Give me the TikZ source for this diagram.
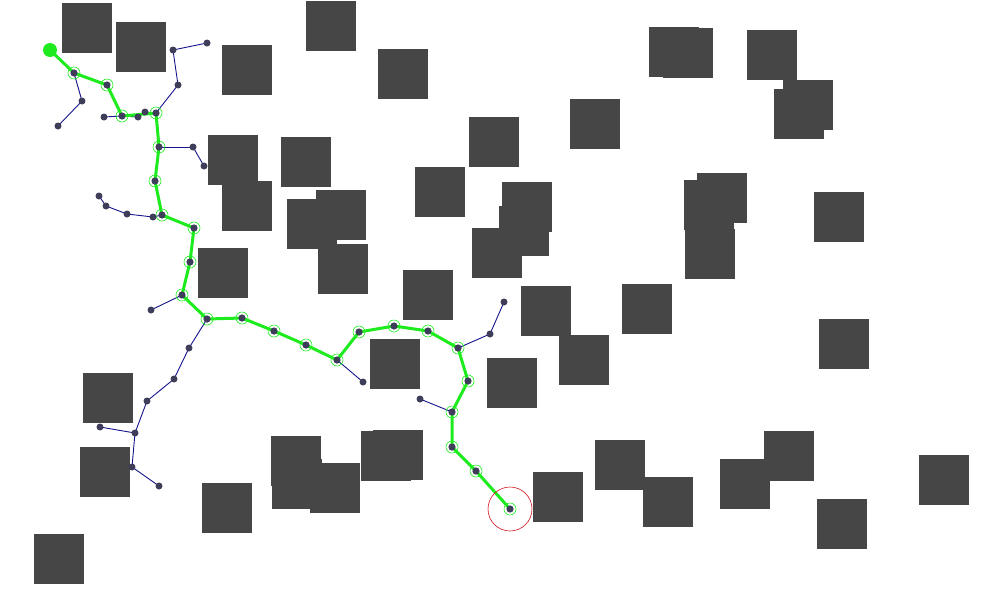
\documentclass[tikz,border=0pt]{standalone}
\usepackage{tikz}
\usetikzlibrary{arrows,positioning,backgrounds}
\definecolor{obst}{RGB}{70,70,70}
\definecolor{dotc}{RGB}{62,62,90}
\definecolor{treec}{RGB}{20,20,140}
\definecolor{pathc}{RGB}{30,235,30}
\definecolor{goalc}{RGB}{210,20,30}

\begin{document}
\begin{tikzpicture}[x=1pt,y=-1pt]
\useasboundingbox (0,0) rectangle (1000,600);
%% obstacles
\foreach \x/\y in {62/3,116/22,222/45,306/1,378/49,649/27,663/28,747/30,783/80,774/89,
  570/99,469/117,208/135,281/137,415/167,222/181,287/199,316/190,502/182,499/206,
  472/228,697/173,684/180,685/229,814/192,198/248,318/244,403/270,521/286,622/284,
  819/319,370/339,559/335,487/358,83/373,80/447,271/436,272/459,310/463,361/431,
  373/430,202/483,533/472,595/440,643/477,720/459,764/431,817/499,919/455,34/534}
  \fill[obst] (\x,\y) rectangle ++(50,50); %%
\begin{scope}
\tikzstyle{every node}=[circle,inner sep=0pt] %%
\tikzstyle{tn}=[fill=dotc,minimum size=7pt] %%
\tikzstyle{pn}=[draw=pathc,line width=.6pt,minimum size=12pt,
  path picture={\fill[dotc] (path picture bounding box.center) circle (3.6pt);}] %%
\node[fill=pathc,minimum size=14pt] (p0) at (50,50) {}; %%
\node[pn] (p1) at (74,73) {}; %%
\node[pn] (p2) at (107,85) {}; %%
\node[pn] (p3) at (122,116) {}; %%
\node[pn] (p4) at (156,113) {}; %%
\node[pn] (p5) at (159,147) {}; %%
\node[pn] (p6) at (155,181) {}; %%
\node[pn] (p7) at (162,215) {}; %%
\node[pn] (p8) at (194,228) {}; %%
\node[pn] (p9) at (190,262) {}; %%
\node[pn] (p10) at (182,295) {}; %%
\node[pn] (p11) at (207,319) {}; %%
\node[pn] (p12) at (242,318) {}; %%
\node[pn] (p13) at (274,331) {}; %%
\node[pn] (p14) at (306,345) {}; %%
\node[pn] (p15) at (337,360) {}; %%
\node[pn] (p16) at (359,332) {}; %%
\node[pn] (p17) at (394,326) {}; %%
\node[pn] (p18) at (428,331) {}; %%
\node[pn] (p19) at (458,348) {}; %%
\node[pn] (p20) at (468,381) {}; %%
\node[pn] (p21) at (452,412) {}; %%
\node[pn] (p22) at (452,447) {}; %%
\node[pn] (p23) at (476,471) {}; %%
\node[pn] (p24) at (510,509) {}; %%
\node[draw=goalc,line width=.6pt,minimum size=44pt] (goal) at (p24) {}; %%
\node[tn] (b1) at (82,101) {}; %%
\node[tn] (b2) at (58,126) {}; %%
\node[tn] (b3) at (104,117) {}; %%
\node[tn] (b4) at (138,117) {}; %%
\node[tn] (b5) at (145,112) {}; %%
\node[tn] (b6) at (178,85) {}; %%
\node[tn] (b7) at (173,50) {}; %%
\node[tn] (b8) at (207,43) {}; %%
\node[tn] (b9) at (193,147) {}; %%
\node[tn] (b10) at (204,166) {}; %%
\node[tn] (b11) at (153,217) {}; %%
\node[tn] (b12) at (127,214) {}; %%
\node[tn] (b13) at (106,206) {}; %%
\node[tn] (b14) at (99,196) {}; %%
\node[tn] (b15) at (151,310) {}; %%
\node[tn] (b16) at (189,348) {}; %%
\node[tn] (b17) at (174,379) {}; %%
\node[tn] (b18) at (147,401) {}; %%
\node[tn] (b19) at (135,433) {}; %%
\node[tn] (b20) at (100,427) {}; %%
\node[tn] (b21) at (132,467) {}; %%
\node[tn] (b22) at (159,486) {}; %%
\node[tn] (b23) at (363,382) {}; %%
\node[tn] (b24) at (490,334) {}; %%
\node[tn] (b25) at (504,302) {}; %%
\node[tn] (b26) at (420,399) {};
\end{scope}
\begin{scope}[on background layer]
%% tree branches
\foreach \a/\b in {p1/b1,b1/b2,p3/b3,p3/b4,b5/p4,p4/b6,b6/b7,b7/b8,p5/b9,b9/b10,
  p7/b11,b11/b12,b12/b13,b13/b14,p10/b15,p11/b16,b16/b17,b17/b18,b18/b19,b19/b20,
  b19/b21,b21/b22,p15/b23,p19/b24,b24/b25,p21/b26}
  \draw[treec,line width=.9pt] (\a.center)--(\b.center); %%
%% found path
\draw[pathc,line width=3pt,line join=round] (p0.center)--(p1.center)--(p2.center)
  --(p3.center)--(p4.center)--(p5.center)--(p6.center)--(p7.center)--(p8.center)
  --(p9.center)--(p10.center)--(p11.center)--(p12.center)--(p13.center)--(p14.center)
  --(p15.center)--(p16.center)--(p17.center)--(p18.center)--(p19.center)--(p20.center)
  --(p21.center)--(p22.center)--(p23.center)--(p24.center);
\end{scope}
\end{tikzpicture}
\end{document}
